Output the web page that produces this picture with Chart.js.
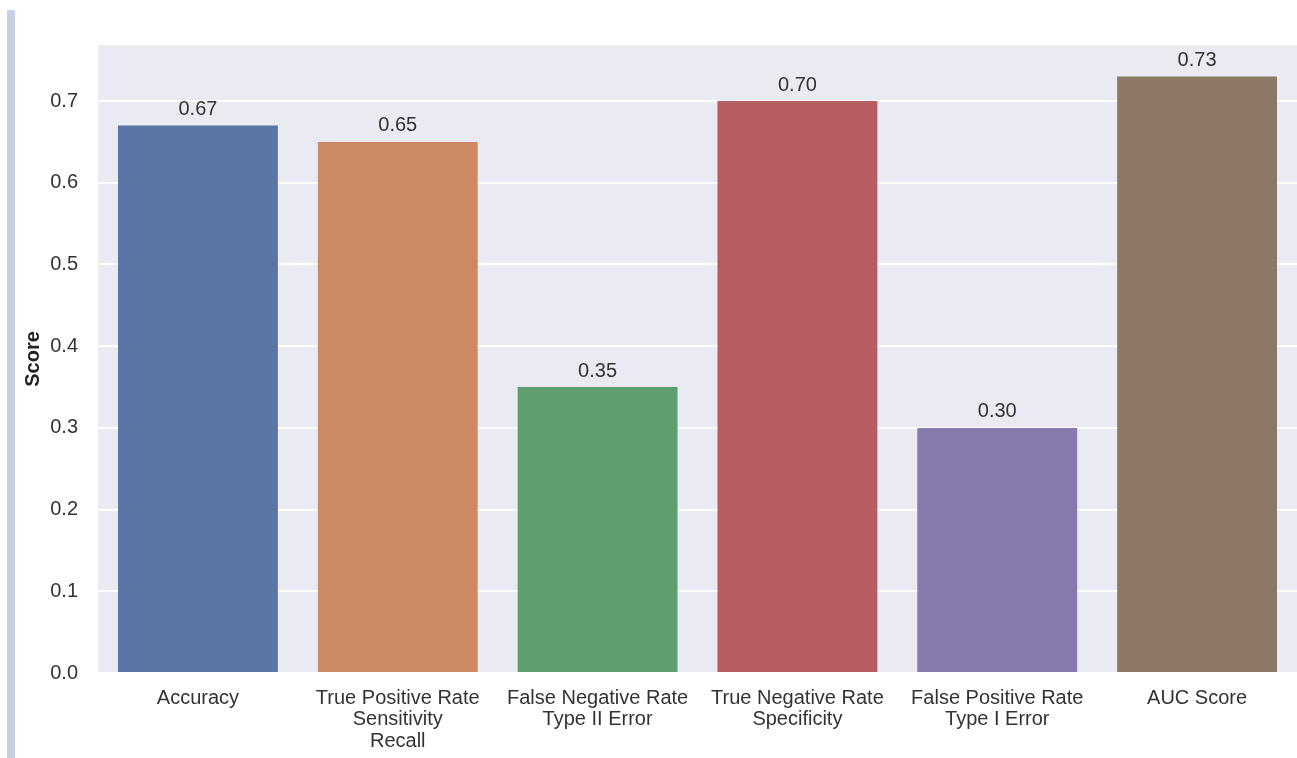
<!DOCTYPE html>
<html>
<head>
<meta charset="utf-8">
<script src="https://cdn.jsdelivr.net/npm/chart.js@4.4.1/dist/chart.umd.min.js"></script>
<style>
    html, body { margin: 0; padding: 0; background: #ffffff; }
    .wrap { position: relative; width: 1297px; height: 758px; }
    .side { position: absolute; left: 7px; top: 10px; width: 8px; height: 748px; background: #c6d0e3; }
    canvas { position: absolute; left: 0; top: 0; }
</style>
</head>
<body>
<div class="wrap">
    <div class="side"></div>
    <canvas id="scoreChart" width="1297" height="758"></canvas>
</div>
<script>
const metricLabels = [
    ["Accuracy"],
    ["True Positive Rate", "Sensitivity", "Recall"],
    ["False Negative Rate", "Type II Error"],
    ["True Negative Rate", "Specificity"],
    ["False Positive Rate", "Type I Error"],
    ["AUC Score"]
];
const scores = [0.67, 0.65, 0.35, 0.70, 0.30, 0.73];
const barColors = ["#5975a4", "#cc8963", "#5f9e6e", "#b55d60", "#857aab", "#8d7866"];
const yTicks = [0.0, 0.1, 0.2, 0.3, 0.4, 0.5, 0.6, 0.7];

const textColor = "#333333";
const fontFamily = "'Liberation Sans', Arial, sans-serif";

// grey panel behind the bars
const panelBackground = {
    id: "panelBackground",
    beforeDraw(chart) {
        const {ctx, chartArea} = chart;
        ctx.save();
        ctx.fillStyle = "#eaeaf2";
        ctx.fillRect(chartArea.left, chartArea.top, chartArea.right - chartArea.left, chartArea.bottom - chartArea.top);
        ctx.restore();
    }
};

// value printed above each bar
const barValues = {
    id: "barValues",
    afterDatasetsDraw(chart) {
        const {ctx} = chart;
        const meta = chart.getDatasetMeta(0);
        ctx.save();
        ctx.font = "20px " + fontFamily;
        ctx.fillStyle = textColor;
        ctx.textAlign = "center";
        ctx.textBaseline = "middle";
        meta.data.forEach((bar, i) => {
            ctx.fillText(scores[i].toFixed(2), bar.x, bar.y - 16);
        });
        ctx.restore();
    }
};

new Chart(document.getElementById("scoreChart"), {
    type: "bar",
    data: {
        labels: metricLabels,
        datasets: [{
            data: scores,
            backgroundColor: barColors,
            borderWidth: 0,
            categoryPercentage: 1.0,
            barPercentage: 0.8
        }]
    },
    options: {
        responsive: false,
        animation: false,
        layout: {
            padding: {top: 45, left: 0, right: 0, bottom: 0}
        },
        plugins: {
            legend: {display: false},
            tooltip: {enabled: false}
        },
        scales: {
            x: {
                grid: {display: false, drawTicks: false},
                border: {display: false},
                ticks: {
                    color: textColor,
                    padding: 15,
                    maxRotation: 0,
                    autoSkip: false,
                    font: {family: fontFamily, size: 20, lineHeight: 1.06}
                },
                afterFit(scale) { scale.height = 85; }
            },
            y: {
                min: 0,
                max: 0.7686,
                grid: {color: "#ffffff", lineWidth: 2, drawTicks: false},
                border: {display: false},
                ticks: {
                    color: textColor,
                    padding: 20,
                    stepSize: 0.1,
                    font: {family: fontFamily, size: 20},
                    callback: (v) => v.toFixed(1)
                },
                afterBuildTicks(scale) {
                    scale.ticks = yTicks.map(v => ({value: v}));
                },
                title: {
                    display: true,
                    text: "Score",
                    color: "#222222",
                    padding: {top: 21, bottom: 0},
                    font: {family: fontFamily, size: 20, weight: "bold"}
                },
                afterFit(scale) { scale.width = 98; }
            }
        }
    },
    plugins: [panelBackground, barValues]
});
</script>
</body>
</html>
